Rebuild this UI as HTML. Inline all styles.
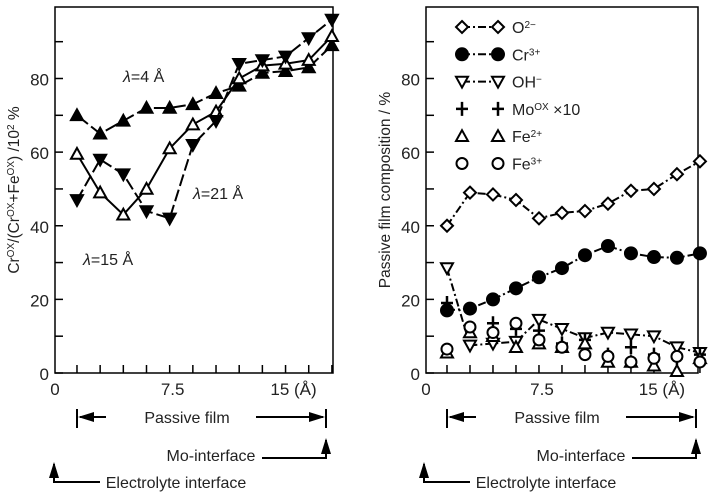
<!DOCTYPE html>
<html><head><meta charset="utf-8"><style>
body{margin:0;background:#fff}
svg{display:block;font-family:"Liberation Sans",Arial,sans-serif}
</style></head><body>
<svg id="fig" width="710" height="494" viewBox="0 0 710 494">
<defs><marker id="ah" markerWidth="8" markerHeight="8" refX="7" refY="4" orient="auto"><path d="M0,1.5 L8,4 L0,6.5z" fill="#000"/></marker></defs>
<g id="left"></g>
<g id="right"></g>
<g id="ann" stroke="#000" stroke-width="2" fill="none"></g>
</svg>
<script>
const xs=[1.5,3,4.5,6,7.5,9,10.5,12,13.5,15,16.5,18];
const lam4=[70,65,68.5,72,72,73,76,78,81.5,82,83,89];
const lam15=[59.5,49,43,50,61,67.5,71,80,83.5,84,85,91.5];
const lam21=[47,58,54,44,42,62,68.5,84,85,86,91,96];
const o2=[40,49,48.5,47,42,43.5,44,46,49.5,50,54,57.5];
const cr3=[17,17.5,20,23,26,28.5,32,34.5,32.5,31.5,31.3,32.5];
const ohm=[28.5,7.5,8,8.5,14.5,12,9.5,11,10.5,10,7,5.5];
const mo=[19,12,13.5,12,11.5,8,9,5,7,5,4,5];
const fe2=[5.5,11,10,7,8,7,8,3,3,2,0.5,4];
const fe3=[6.5,12.5,11,13.5,9,7,5,4.5,3,4,4.5,3];
const yTicks=[0,20,40,60,80];
const NS="http://www.w3.org/2000/svg";
function el(p,t,a){const e=document.createElementNS(NS,t);for(const k in a)e.setAttribute(k,a[k]);p.appendChild(e);return e;}
function marker(g,type,cx,cy,name){
 let e;const r=6;
 if(type==='tu'||type==='tuo') e=el(g,'path',{d:`M${cx},${cy-r} L${cx+r},${cy+r*0.8} L${cx-r},${cy+r*0.8}Z`,fill:type==='tu'?'#000':'#fff',stroke:'#000','stroke-width':2});
 else if(type==='td'||type==='tdo') e=el(g,'path',{d:`M${cx},${cy+r} L${cx+r},${cy-r*0.8} L${cx-r},${cy-r*0.8}Z`,fill:type==='td'?'#000':'#fff',stroke:'#000','stroke-width':2});
 else if(type==='dia') e=el(g,'path',{d:`M${cx},${cy-6} L${cx+6},${cy} L${cx},${cy+6} L${cx-6},${cy}Z`,fill:'#fff',stroke:'#000','stroke-width':2});
 else if(type==='cf'||type==='co') e=el(g,'circle',{cx:cx,cy:cy,r:type==='cf'?6:5.5,fill:type==='cf'?'#000':'#fff',stroke:'#000','stroke-width':2});
 else if(type==='plus') e=el(g,'path',{d:`M${cx-6},${cy}H${cx+6}M${cx},${cy-7}V${cy+7}`,stroke:'#000','stroke-width':2.5,fill:'none'});
 
 
}
function chart(g,L,R,top,bot,x0px,slope,ylab,series){
 const ys=v=>bot-v*(bot-78.5)/80;
 const X=v=>x0px+v*slope;
 const frame=el(g,'rect',{x:L,y:top,width:R-L,height:bot-top,fill:'none',stroke:'#000','stroke-width':1.5});
 
 
 for(let v=0;v<=90;v+=10){const yy=ys(v);el(g,'line',{x1:L,x2:L+8,y1:yy,y2:yy,stroke:'#000','stroke-width':1.5});}
 yTicks.forEach(v=>{const t=el(g,'text',{x:L-6,y:ys(v)+7,'text-anchor':'end','font-size':17,fill:'#222'});t.textContent=v;
  
  });
 xs.forEach(v=>el(g,'line',{x1:X(v),x2:X(v),y1:bot,y2:bot-8,stroke:'#000','stroke-width':1.5}));
 [['0',L],['7.5',X(7.5)+3],['15 (Å)',X(15)+8]].forEach(([s,xx])=>{const t=el(g,'text',{x:xx,y:bot+22,'text-anchor':'middle','font-size':17,fill:'#222'});t.textContent=s;
  
  });
 const yl=el(g,'text',{transform:`translate(${L-36},${(top+bot)/2}) rotate(-90)`,'text-anchor':'middle','font-size':15.5,fill:'#222'});
 yl.innerHTML=ylab;
 
 
 series.forEach(s=>{
  const sg=el(g,'g',{});
  
  
  if(s.dash){el(sg,'polyline',{points:s.data.map((v,i)=>X(xs[i])+','+ys(v)).join(' '),fill:'none',stroke:'#000','stroke-width':2,'stroke-dasharray':s.dash});}
  s.data.forEach((v,i)=>marker(sg,s.m,X(xs[i]),ys(v),s.name+'-point'));
 });
 return {X,ys};
}
const lg=document.getElementById('left');
chart(lg,55,333,7,373,53.8,15.45,'Cr<tspan baseline-shift="super" font-size="10">OX</tspan>/(Cr<tspan baseline-shift="super" font-size="10">OX</tspan>+Fe<tspan baseline-shift="super" font-size="10">OX</tspan>) /10<tspan baseline-shift="super" font-size="10">2</tspan> %',[
 {name:'series-lambda-4',data:lam4,m:'tu',dash:'14,4'},
 {name:'series-lambda-15',data:lam15,m:'tuo',dash:'none'},
 {name:'series-lambda-21',data:lam21,m:'td',dash:'12,4'}]);
[['λ=4 Å',123,82],['λ=21 Å',193,199],['λ=15 Å',83,265]].forEach(([s,x,y])=>{const t=el(lg,'text',{x:x,y:y,'font-size':16,fill:'#222'});
 t.innerHTML='<tspan font-style="italic">λ</tspan>'+s.slice(1);
 
 });
const rg=document.getElementById('right');
chart(rg,426,698,7,373,424,15.33,'Passive film composition / %',[
 {name:'series-o2',data:o2,m:'dia',dash:'8,3,2,3'},
 {name:'series-cr3',data:cr3,m:'cf',dash:'8,3,2,3'},
 {name:'series-oh',data:ohm,m:'tdo',dash:'8,3,2,3'},
 {name:'series-mo',data:mo,m:'plus',dash:null},
 {name:'series-fe2',data:fe2,m:'tuo',dash:null},
 {name:'series-fe3',data:fe3,m:'co',dash:null}]);
const leg=[['dia','O','2−',true],['cf','Cr','3+',true],['tdo','OH','−',true],['plus','Mo','OX',false,' ×10'],['tuo','Fe','2+',false],['co','Fe','3+',false]];
leg.forEach((l,i)=>{const yy=27+i*27.3;const g=el(rg,'g',{});
 
 
 if(l[3])el(g,'line',{x1:462,x2:498,y1:yy,y2:yy,stroke:'#000','stroke-width':2,'stroke-dasharray':'8,3,2,3'});
 marker(g,l[0],462,yy,'legend-marker');marker(g,l[0],498,yy,'legend-marker');
 const t=el(g,'text',{x:512,y:yy+6,'font-size':16,fill:'#222'});
 t.innerHTML=l[1]+'<tspan baseline-shift="super" font-size="10">'+l[2]+'</tspan>'+(l[4]||'');});
const an=document.getElementById('ann');
function annot(dx,name){
 const g=el(an,'g',{});
 
 
 el(g,'line',{x1:77+dx,x2:77+dx,y1:409,y2:428});
 el(g,'line',{x1:326+dx,x2:326+dx,y1:409,y2:428});
 el(g,'line',{x1:106+dx,x2:80+dx,y1:417,y2:417,'marker-end':'url(#ah)'});
 el(g,'line',{x1:256+dx,x2:323+dx,y1:417,y2:417,'marker-end':'url(#ah)'});
 el(g,'polyline',{points:`${262+dx},458 ${326+dx},458 ${326+dx},440`,'marker-end':'url(#ah)'});
 el(g,'polyline',{points:`${100+dx},482 ${54+dx},482 ${54+dx},464`,'marker-end':'url(#ah)'});
 [['Passive film',187,423],['Mo-interface',211,461],['Electrolyte interface',176,488]].forEach(([s,x,y])=>{const t=el(g,'text',{x:x+dx,y:y,'text-anchor':'middle','font-size':16,fill:'#222',stroke:'none'});t.textContent=s;});
}
annot(0,'left-annotations');annot(370,'right-annotations');
</script>
</body></html>
